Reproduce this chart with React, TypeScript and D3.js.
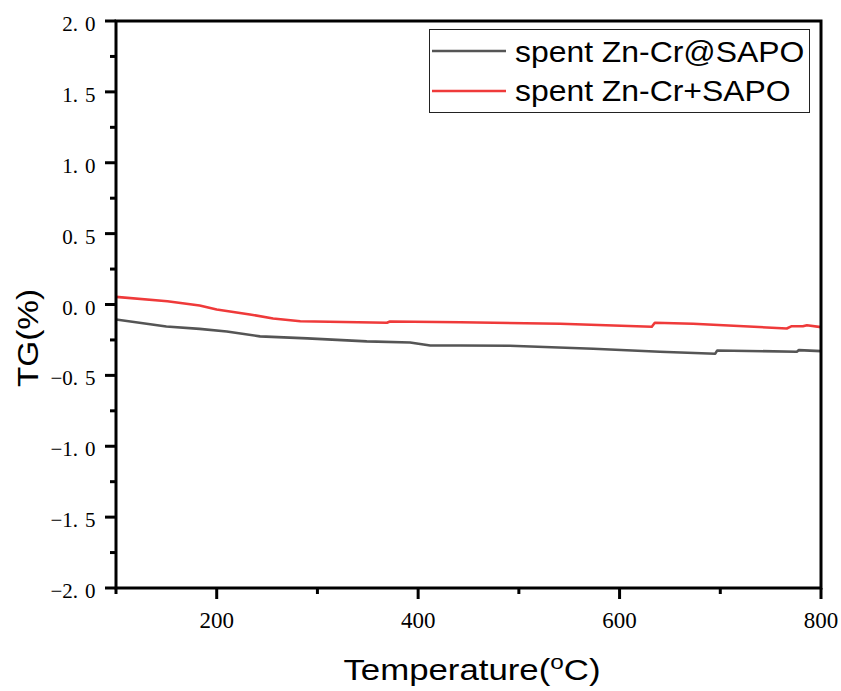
import React from "react";
import * as d3 from "d3";

const seriesNames = ["spent Zn-Cr@SAPO", "spent Zn-Cr+SAPO"];
const seriesColors = ["#555555", "#ef3a3a"];

const blackTemps = [100, 150, 183, 210, 243, 290, 349, 392, 412, 442, 491, 574, 640, 695, 697, 776, 778, 800];
const blackValues = [-0.106, -0.155, -0.172, -0.19, -0.225, -0.239, -0.26, -0.268, -0.289, -0.289, -0.291, -0.312, -0.333, -0.347, -0.324, -0.333, -0.322, -0.329];

const redTemps = [100, 151, 183, 200, 233, 256, 283, 369, 372, 442, 541, 632, 635, 673, 766, 771, 782, 786, 800];
const redValues = [0.054, 0.023, -0.007, -0.035, -0.07, -0.099, -0.118, -0.129, -0.12, -0.125, -0.136, -0.157, -0.129, -0.136, -0.169, -0.153, -0.153, -0.146, -0.16];

const yMajorTicks = [-2, -1.5, -1, -0.5, 0, 0.5, 1, 1.5, 2];
const yMinorTicks = [-1.75, -1.25, -0.75, -0.25, 0.25, 0.75, 1.25, 1.75];
const xMajorTicks = [200, 400, 600, 800];
const xMinorTicks = [100, 300, 500, 700];

const W = 841;
const H = 691;
const L = 116, R = 821, T = 21, B = 588;

export default function App() {
  const x = d3.scaleLinear().domain([100, 800]).range([L, R]);
  const y = d3.scaleLinear().domain([-2, 2]).range([B, T]);
  const line = d3
    .line<[number, number]>()
    .x((d) => x(d[0]))
    .y((d) => y(d[1]));
  const series = [
    d3.zip(blackTemps, blackValues) as [number, number][],
    d3.zip(redTemps, redValues) as [number, number][],
  ];
  const fmt = d3.format(".1f");
  const serif = "'Liberation Serif', 'DejaVu Serif', serif";
  const sans = "'Liberation Sans', Arial, sans-serif";

  return (
    <div style={{ position: "absolute", left: 0, top: 0 }}>
      <svg width={W} height={H} style={{ display: "block", background: "#fff" }}>
        <defs>
          <clipPath id="plotclip">
            <rect x={L} y={T} width={R - L} height={B - T} />
          </clipPath>
        </defs>
        <g clipPath="url(#plotclip)">
          {series.map((s, i) => (
            <path key={i} d={line(s) || ""} fill="none" stroke={seriesColors[i]} strokeWidth={2.6} strokeLinejoin="round" />
          ))}
        </g>
        {/* frame */}
        <rect x={L} y={T} width={R - L} height={B - T} fill="none" stroke="#000" strokeWidth={3} />
        {/* y ticks */}
        {yMajorTicks.map((v) => {
          const parts = fmt(Math.abs(v)).split(".");
          return (
            <g key={"ym" + v}>
              <line x1={L - 11} x2={L} y1={y(v)} y2={y(v)} stroke="#000" strokeWidth={3} />
              <text x={95.5} y={y(v) + 10} textAnchor="end" fontFamily={serif} fontSize={21} fill="#000">
                {(v < 0 ? "\u2212" : "") + parts[0] + "."}
                <tspan dx={7}>{parts[1]}</tspan>
              </text>
            </g>
          );
        })}
        {yMinorTicks.map((v) => (
          <line key={"yn" + v} x1={L - 6} x2={L} y1={y(v)} y2={y(v)} stroke="#000" strokeWidth={3} />
        ))}
        {/* x ticks */}
        {xMajorTicks.map((v) => (
          <g key={"xm" + v}>
            <line x1={x(v)} x2={x(v)} y1={B} y2={B + 11} stroke="#000" strokeWidth={3} />
            <text x={x(v)} y={628} textAnchor="middle" fontFamily={serif} fontSize={23} fill="#000">
              {v}
            </text>
          </g>
        ))}
        {xMinorTicks.map((v) => (
          <line key={"xn" + v} x1={x(v)} x2={x(v)} y1={B} y2={B + 6} stroke="#000" strokeWidth={3} />
        ))}
        {/* axis titles */}
        <text
          transform="translate(472,680) scale(1.16,1)"
          textAnchor="middle"
          fontFamily={sans}
          fontSize={30}
          fill="#000"
        >
          Temperature(
          <tspan fontSize={21} dy={-11}>o</tspan>
          <tspan dy={11}>C)</tspan>
        </text>
        <text
          transform="translate(38,338) rotate(-90) scale(1.11,1)"
          textAnchor="middle"
          fontFamily={sans}
          fontSize={30}
          fill="#000"
        >
          TG(%)
        </text>
        {/* legend */}
        <rect x={429.5} y={29.5} width={380} height={83} fill="#fff" stroke="#222" strokeWidth={1} />
        {seriesNames.map((n, i) => (
          <g key={n}>
            <line x1={432} x2={506} y1={51 + i * 40} y2={51 + i * 40} stroke={seriesColors[i]} strokeWidth={2.6} />
            <text
              transform={`translate(515,${62 + i * 39}) scale(1.10,1)`}
              fontFamily={sans}
              fontSize={29}
              fill="#000"
            >
              {n}
            </text>
          </g>
        ))}
      </svg>
    </div>
  );
}
